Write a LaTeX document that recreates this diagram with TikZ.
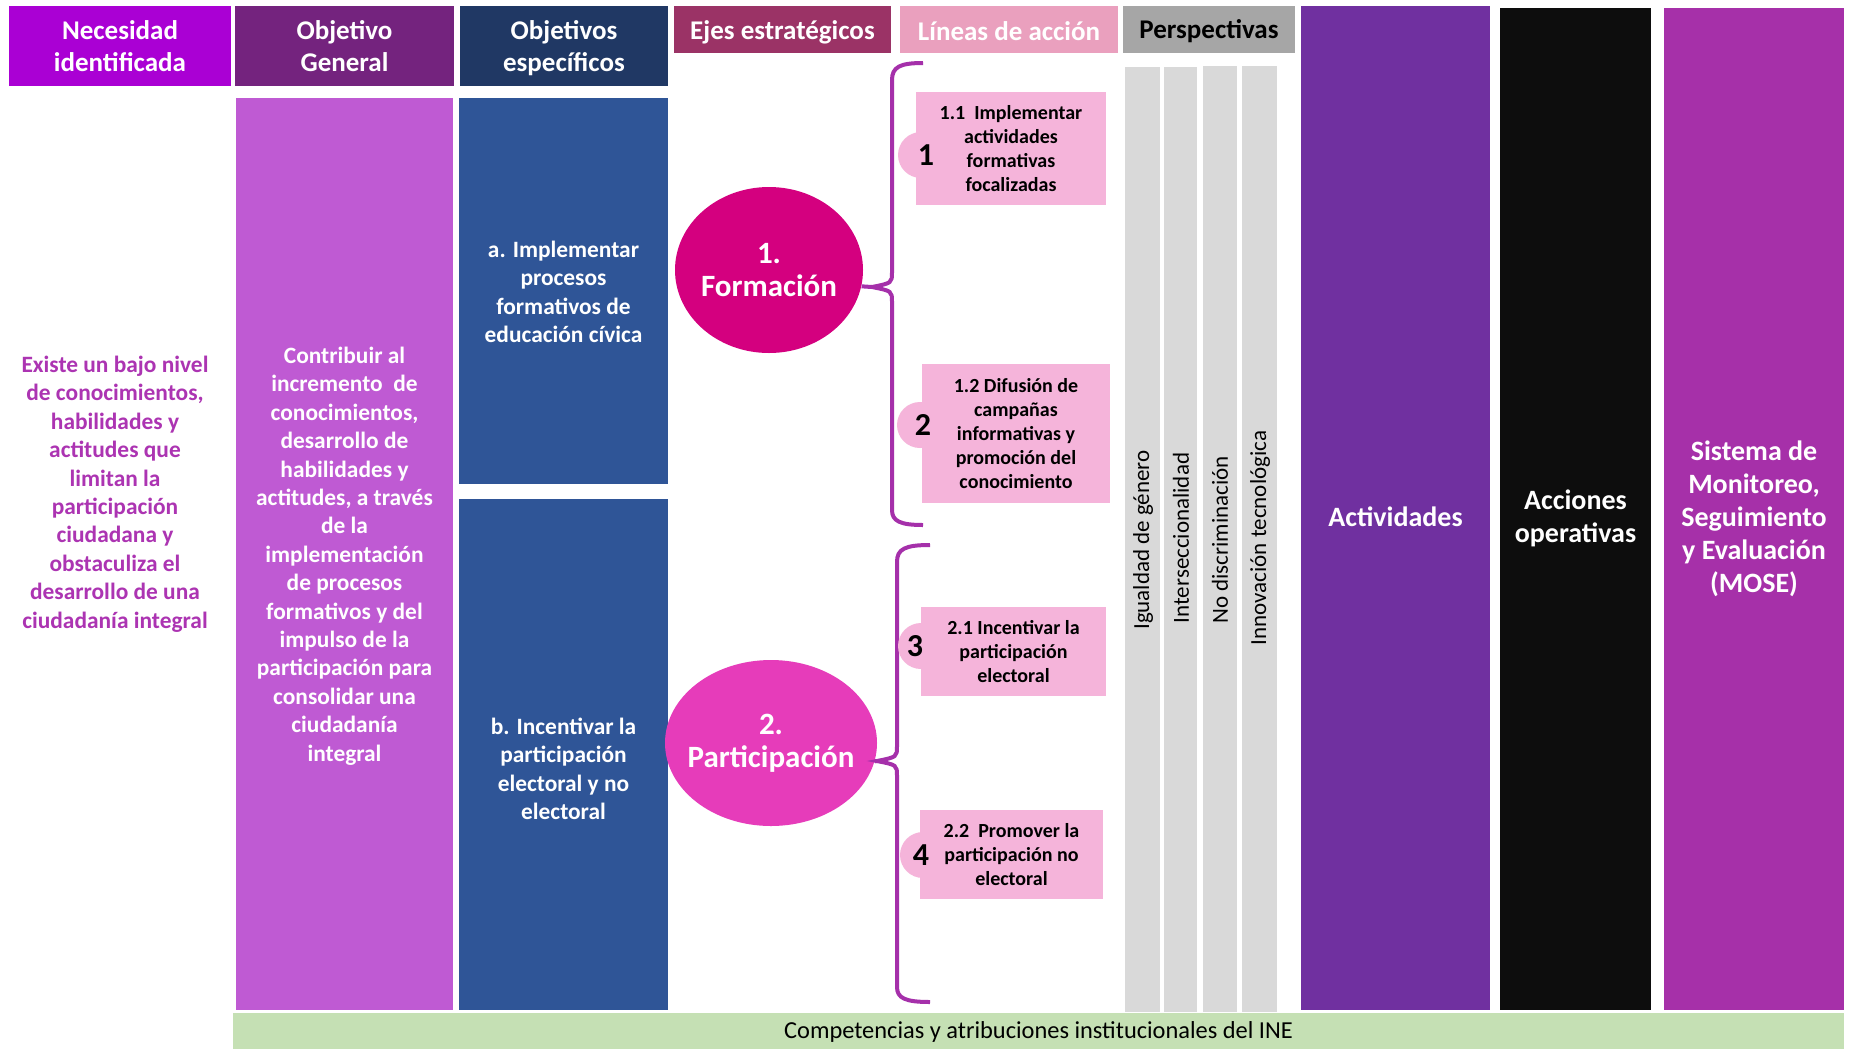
\documentclass[tikz,border=0pt]{standalone}
\usepackage{fontspec}
\setmainfont{Carlito}
\usetikzlibrary{shapes.geometric}
\definecolor{necH}{RGB}{170,0,212}
\definecolor{ogH}{RGB}{116,35,126}
\definecolor{oeH}{RGB}{32,56,100}
\definecolor{ejH}{RGB}{155,51,102}
\definecolor{liH}{RGB}{234,160,190}
\definecolor{peH}{RGB}{166,166,166}
\definecolor{ogB}{RGB}{191,90,211}
\definecolor{oeB}{RGB}{47,85,151}
\definecolor{forC}{RGB}{212,0,127}
\definecolor{parC}{RGB}{230,60,186}
\definecolor{braceC}{RGB}{165,48,170}
\definecolor{pinkB}{RGB}{245,180,218}
\definecolor{peB}{RGB}{217,217,217}
\definecolor{actB}{RGB}{112,48,160}
\definecolor{accB}{RGB}{13,13,13}
\definecolor{moseB}{RGB}{166,48,169}
\definecolor{greenB}{RGB}{197,224,180}
\definecolor{necT}{RGB}{172,52,178}
\begin{document}
\begin{tikzpicture}[x=0.5pt,y=-0.5pt,
  hdr/.style={text=white, font=\bfseries\fontsize{13.5}{16}\selectfont, align=center, inner sep=0},
  body/.style={text=white, font=\bfseries\fontsize{11.7}{14.2}\selectfont, align=center, inner sep=0},
  lbox/.style={text=black, font=\bfseries\fontsize{10}{12}\selectfont, align=center, inner sep=0},
  num/.style={text=black, font=\bfseries\fontsize{16}{16}\selectfont, inner sep=0},
  col/.style={text=white, font=\bfseries\fontsize{14}{16.5}\selectfont, align=center, inner sep=0},
  persp/.style={rotate=90, text=black, font=\fontsize{11.5}{13}\selectfont, inner sep=0},
  eje/.style={ellipse, inner sep=0},
  ejetext/.style={text=white, font=\bfseries\fontsize{15.5}{16.5}\selectfont, align=center, inner sep=0},
  brace/.style={draw=braceC, line width=2pt},
  dot/.style={circle, fill=pinkB, inner sep=0, minimum size=23pt}]
\useasboundingbox (0,0) rectangle (1853,1051);
\fill[white] (0,0) rectangle (1853,1051);

% headers
\fill[necH] (9,6) rectangle (231,86);
\node[hdr] (hNec) at (120,46) {Necesidad\\identificada};
\fill[ogH] (235,6) rectangle (454,86);
\node[hdr] (hOG) at (344.5,46) {Objetivo\\General};
\fill[oeH] (460,6) rectangle (668,86);
\node[hdr] (hOE) at (564,48) {Objetivos\\específicos};
\fill[ejH] (674,6) rectangle (891,53);
\node[hdr] (hEj) at (782.5,32) {Ejes estratégicos};
\fill[liH] (900,6) rectangle (1118,53);
\node[hdr] (hLi) at (1009,31) {Líneas de acción};
\fill[peH] (1123,6) rectangle (1295,53);
\node[hdr, text=black] (hPe) at (1209,31) {Perspectivas};

% big right columns
\fill[actB] (1301,6) rectangle (1490,1010);
\node[col] (act) at (1395.5,517) {Actividades};
\fill[accB] (1500,8) rectangle (1651,1010);
\node[col] (acc) at (1575.5,518) {Acciones\\operativas};
\fill[moseB] (1664,8) rectangle (1844,1010);
\node[col] (mose) at (1754,519) {Sistema de\\Monitoreo,\\Seguimiento\\y Evaluación\\(MOSE)};

% necesidad text
\node[body, text=necT] (nec) at (115,494) {Existe un bajo nivel\\de conocimientos,\\habilidades y\\actitudes que\\limitan la\\participación\\ciudadana y\\obstaculiza el\\desarrollo de una\\ciudadanía integral};

% objetivo general
\fill[ogB] (236,98) rectangle (453,1010);
\node[body] (og) at (344.5,556) {Contribuir al\\incremento\ \ de\\conocimientos,\\desarrollo de\\habilidades y\\actitudes, a través\\de la\\implementación\\de procesos\\formativos y del\\impulso de la\\participación para\\consolidar una\\ciudadanía\\integral};

% objetivos especificos
\fill[oeB] (459,98) rectangle (668,484);
\node[body] (oa) at (563.5,292) {a. Implementar\\procesos\\formativos de\\educación cívica};
\fill[oeB] (459,499) rectangle (668,1010);
\node[body] (ob) at (563.5,769) {b. Incentivar la\\participación\\electoral y no\\electoral};

% ejes
\node[eje, fill=forC, minimum width=94pt, minimum height=83pt] (F) at (769,270) {};
\node[ejetext] (Ft) at (F.center) {1.\\Formación};
\node[eje, fill=parC, minimum width=106pt, minimum height=83pt] (P) at (771,743) {};
\node[ejetext] (Pt) at (P.center) {2.\\Participación};

% braces
\coordinate (b1tip) at (872,287);
\coordinate (b2tip) at (877,761);
\draw[brace] (923,63) .. controls (900,63) and (892,67) .. (892,80) -- (892,272)
  .. controls (892,283) .. (b1tip) .. controls (892,291) .. (892,302) -- (892,510)
  .. controls (892,521) and (900,525) .. (923,525);
\draw[brace] (F.-10) -- (b1tip);
\draw[brace] (930,545) .. controls (905,545) and (897,549) .. (897,562) -- (897,746)
  .. controls (897,757) .. (b2tip) .. controls (897,765) .. (897,776) -- (897,987)
  .. controls (897,998) and (905,1002) .. (930,1002);
\draw[brace] (P.-10) -- (b2tip);

% lineas de accion
\node[dot] (c1) at (921,155) {};
\fill[pinkB] (916,92) rectangle (1106,205);
\node[lbox] (l1) at (1011,148.5) {1.1\ \ Implementar\\actividades\\formativas\\focalizadas};
\node[num] (n1) at (926,155) {1};

\node[dot] (c2) at (920,425) {};
\fill[pinkB] (922,364) rectangle (1110,503);
\node[lbox] (l2) at (1016,433.5) {1.2 Difusión de\\campañas\\informativas y\\promoción del\\conocimiento};
\node[num] (n2) at (923,425) {2};

\node[dot] (c3) at (921,646) {};
\fill[pinkB] (921,607) rectangle (1106,696);
\node[lbox] (l3) at (1013.5,651.5) {2.1 Incentivar la\\participación\\electoral};
\node[num] (n3) at (915,646) {3};

\node[dot] (c4) at (923,855) {};
\fill[pinkB] (920,810) rectangle (1103,899);
\node[lbox] (l4) at (1011.5,854.5) {2.2\ \ Promover la\\participación no\\electoral};
\node[num] (n4) at (921,855) {4};

% perspectivas
\fill[peB] (1125,67) rectangle (1160,1012);
\fill[peB] (1164,67) rectangle (1197,1012);
\fill[peB] (1203,66) rectangle (1237,1012);
\fill[peB] (1242,66) rectangle (1277,1012);
\node[persp] (p1) at (1143,540) {Igualdad de género};
\node[persp] (p2) at (1181,538) {Interseccionalidad};
\node[persp] (p3) at (1220,540) {No discriminación};
\node[persp] (p4) at (1260,538) {Innovación tecnológica};

% bottom bar
\fill[greenB] (233,1013) rectangle (1844,1049);
\node[text=black, font=\fontsize{12.2}{14}\selectfont, inner sep=0] (ine) at (1038.5,1032) {Competencias y atribuciones institucionales del INE};
\end{tikzpicture}
\end{document}
